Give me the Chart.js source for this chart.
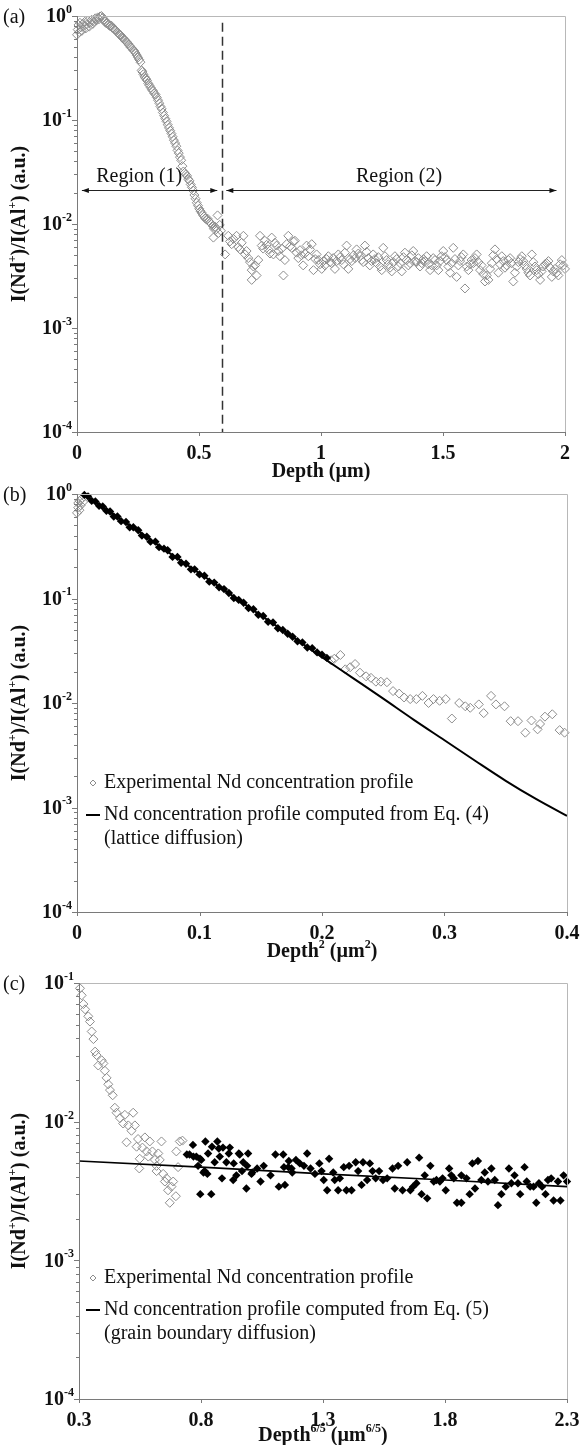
<!DOCTYPE html>
<html>
<head>
<meta charset="utf-8">
<script src="https://cdn.jsdelivr.net/npm/chart.js@4.4.1/dist/chart.umd.min.js"></script>
<style>
  body { margin: 0; background: #fff; width: 580px; height: 1445px; position: relative; overflow: hidden; }
  canvas { position: absolute; left: 0; }
</style>
</head>
<body>
<canvas id="chartA" width="580" height="492" style="top:0px"></canvas>
<canvas id="chartB" width="580" height="492" style="top:478px"></canvas>
<canvas id="chartC" width="580" height="479" style="top:966px"></canvas>
<script>
// Panel (a): Depth (µm) vs I(Nd+)/I(Al+)
const aRegionOne = [
  [0.000,0.66],[0.003,0.74],[0.006,0.82],[0.009,0.70],[0.012,0.86],[0.016,0.78],[0.020,0.72],[0.024,0.84],
  [0.028,0.80],[0.032,0.88],[0.036,0.76],[0.040,0.83],[0.045,0.90],[0.050,0.79],[0.055,0.86],[0.060,0.92],
  [0.065,0.84],[0.070,0.89],[0.075,0.95],[0.080,0.91],[0.085,0.97],[0.090,0.93],[0.095,0.99],[0.100,1.00],
  [0.105,0.96],[0.110,0.92],[0.115,0.88],[0.120,0.85],[0.125,0.86],[0.130,0.82],[0.135,0.80],[0.140,0.81],
  [0.145,0.77],[0.150,0.76],[0.155,0.74],[0.160,0.72],[0.165,0.70],[0.170,0.68],[0.175,0.66],[0.180,0.65],
  [0.185,0.62],[0.190,0.61],[0.195,0.59],[0.200,0.57],[0.205,0.56],[0.210,0.54],[0.215,0.52],[0.220,0.50],
  [0.225,0.49],[0.230,0.47],[0.235,0.46],[0.240,0.44],[0.245,0.42],[0.250,0.40],[0.255,0.38],[0.260,0.36],
  [0.265,0.30],[0.268,0.29],[0.272,0.275],[0.277,0.26],[0.282,0.25],[0.287,0.24],[0.292,0.225],[0.297,0.215],
  [0.302,0.205],[0.307,0.195],[0.312,0.19],[0.317,0.18],[0.322,0.175],[0.327,0.165],[0.332,0.155],[0.337,0.145],
  [0.342,0.135],[0.347,0.128],[0.352,0.118],[0.357,0.110],[0.362,0.103],[0.367,0.097],[0.372,0.090],[0.377,0.084],
  [0.382,0.079],[0.387,0.074],[0.392,0.069],[0.397,0.064],[0.402,0.060],[0.407,0.056],[0.412,0.051],[0.417,0.048],
  [0.422,0.044],[0.427,0.041],[0.432,0.036],[0.436,0.032],[0.441,0.031],[0.446,0.030],[0.451,0.029],[0.456,0.027],
  [0.461,0.026],[0.466,0.024],[0.471,0.0225],[0.476,0.021],[0.481,0.019],[0.486,0.0175],[0.491,0.016],[0.496,0.015],
  [0.501,0.014],[0.506,0.0133],[0.511,0.0128],[0.516,0.0122],[0.521,0.0118],[0.526,0.0113],[0.531,0.0110],[0.536,0.0112],
  [0.541,0.0106],[0.546,0.0103],[0.551,0.0100],[0.556,0.0096],[0.561,0.0090],[0.566,0.0094],[0.571,0.0089],[0.576,0.0121],
  [0.559,0.0074],[0.580,0.0082],[0.585,0.0098],[0.590,0.0086]
];
const aRegionTwo = [
  [0.607,0.0051],[0.62,0.0077],[0.627,0.0068],[0.634,0.0064],[0.641,0.0072],[0.654,0.0077],[0.661,0.0060],[0.668,0.0057],
  [0.675,0.0066],[0.682,0.0077],[0.689,0.0051],[0.695,0.0055],[0.702,0.0047],[0.709,0.0043],[0.716,0.0036],[0.716,0.0029],
  [0.723,0.0039],[0.73,0.0040],[0.736,0.0032],[0.743,0.0045],[0.75,0.0077],[0.757,0.0062],[0.763,0.0058],[0.77,0.0069],
  [0.777,0.0063],[0.784,0.0057],[0.791,0.0052],[0.798,0.0074],[0.805,0.0051],[0.811,0.0066],[0.818,0.0062],[0.825,0.0055],
  [0.832,0.0049],[0.839,0.0058],[0.846,0.0032],[0.852,0.0045],[0.859,0.0064],[0.866,0.0077],[0.873,0.0061],[0.88,0.0059],
  [0.887,0.0068],[0.893,0.0069],[0.9,0.0053],[0.907,0.0047],[0.914,0.0056],[0.92,0.0050],[0.927,0.0040],[0.934,0.0052],
  [0.941,0.0062],[0.948,0.0049],[0.955,0.0057],[0.962,0.0064],[0.969,0.0036],[0.976,0.0046],[0.982,0.0051],[0.989,0.0045],
  [0.996,0.0041],[1.003,0.0037],[1.01,0.0044],[1.016,0.0040],[1.023,0.0046],[1.03,0.0049],[1.037,0.0043],[1.044,0.0042],
  [1.05,0.0047],[1.057,0.0037],[1.064,0.0044],[1.071,0.0051],[1.078,0.0048],[1.085,0.0045],[1.092,0.0041],[1.098,0.0053],
  [1.105,0.0062],[1.112,0.0037],[1.119,0.0046],[1.126,0.0044],[1.133,0.0050],[1.14,0.0047],[1.146,0.0057],[1.153,0.0052],
  [1.16,0.0049],[1.167,0.0045],[1.173,0.0043],[1.18,0.0062],[1.187,0.0054],[1.194,0.0047],[1.2,0.0040],[1.207,0.0044],
  [1.214,0.0051],[1.221,0.0046],[1.228,0.0042],[1.235,0.0048],[1.242,0.0039],[1.249,0.0036],[1.255,0.0059],[1.262,0.0049],
  [1.269,0.0045],[1.276,0.0041],[1.283,0.0038],[1.29,0.0035],[1.296,0.0043],[1.303,0.0049],[1.31,0.0046],[1.317,0.0039],
  [1.324,0.0042],[1.331,0.0035],[1.338,0.0048],[1.344,0.0053],[1.351,0.0045],[1.358,0.0040],[1.365,0.0042],[1.372,0.0050],
  [1.378,0.0055],[1.385,0.0044],[1.392,0.0043],[1.399,0.0047],[1.406,0.0039],[1.413,0.0042],[1.42,0.0046],[1.426,0.0044],
  [1.433,0.0049],[1.44,0.0041],[1.447,0.0036],[1.454,0.0040],[1.46,0.0047],[1.467,0.0045],[1.474,0.0040],[1.481,0.0036],
  [1.488,0.0044],[1.494,0.0049],[1.501,0.0055],[1.508,0.0048],[1.515,0.0045],[1.522,0.0039],[1.529,0.0034],[1.535,0.0042],
  [1.542,0.0059],[1.549,0.0046],[1.556,0.0031],[1.563,0.0040],[1.57,0.0044],[1.576,0.0048],[1.583,0.0051],[1.59,0.0024],
  [1.597,0.0039],[1.604,0.0036],[1.611,0.0041],[1.617,0.0045],[1.624,0.0042],[1.631,0.0047],[1.638,0.0051],[1.645,0.0043],
  [1.652,0.0036],[1.658,0.0040],[1.665,0.0033],[1.672,0.0028],[1.679,0.0032],[1.686,0.0029],[1.693,0.0037],[1.7,0.0042],
  [1.706,0.0050],[1.713,0.0057],[1.72,0.0046],[1.727,0.0034],[1.734,0.0041],[1.741,0.0049],[1.747,0.0044],[1.754,0.0038],
  [1.761,0.0040],[1.768,0.0045],[1.775,0.0047],[1.781,0.0042],[1.788,0.0028],[1.795,0.0034],[1.802,0.0039],[1.809,0.0043],
  [1.816,0.0046],[1.823,0.0049],[1.829,0.0044],[1.836,0.0040],[1.843,0.0037],[1.85,0.0034],[1.857,0.0032],[1.864,0.0051],
  [1.87,0.0043],[1.877,0.0039],[1.884,0.0036],[1.891,0.0033],[1.898,0.0029],[1.904,0.0035],[1.911,0.0039],[1.918,0.0041],
  [1.925,0.0042],[1.932,0.0044],[1.939,0.0038],[1.946,0.0031],[1.952,0.0035],[1.959,0.0037],[1.966,0.0034],[1.973,0.0032],
  [1.98,0.0041],[1.987,0.0045],[1.993,0.0040],[2.0,0.0037]
];
const aXTicks = [0, 0.5, 1, 1.5, 2];
const aXTickLabels = ['0', '0.5', '1', '1.5', '2'];
const aDivider = 0.593;
const aArrowLevel = 0.021;
const aRegions = [
  { label: 'Region (1)', from: 0.02, to: 0.575, labelAt: 0.255 },
  { label: 'Region (2)', from: 0.612, to: 1.965, labelAt: 1.32 }
];

// Panel (b): Depth² (µm²)
const bOpenStart = [[0.000,0.66],[0.001,0.74],[0.001,0.82],[0.002,0.70],[0.002,0.86],[0.003,0.78],[0.004,0.90],[0.005,0.84]];
const bFilled = [
  [0.006,0.98],[0.009,0.95],[0.012,0.86],[0.015,0.85],[0.018,0.77],[0.021,0.76],[0.024,0.69],[0.027,0.68],
  [0.030,0.61],[0.033,0.61],[0.036,0.55],[0.040,0.54],[0.043,0.48],[0.046,0.48],[0.050,0.45],[0.053,0.40],
  [0.057,0.39],[0.060,0.35],[0.064,0.35],[0.067,0.31],[0.071,0.30],[0.074,0.29],[0.078,0.25],[0.082,0.25],
  [0.085,0.22],[0.089,0.215],[0.093,0.19],[0.096,0.19],[0.100,0.17],[0.104,0.165],[0.108,0.145],[0.112,0.142],
  [0.116,0.128],[0.120,0.123],[0.124,0.113],[0.128,0.101],[0.132,0.097],[0.136,0.091],[0.140,0.081],[0.144,0.079],
  [0.148,0.070],[0.152,0.068],[0.156,0.060],[0.160,0.059],[0.164,0.052],[0.168,0.050],[0.172,0.046],[0.176,0.043],
  [0.180,0.039],[0.184,0.038],[0.188,0.034],[0.192,0.0335],[0.196,0.0305],[0.200,0.029],[0.204,0.027]
];
const bOpenTail = [
  [0.2075,0.0256],[0.210,0.0265],[0.215,0.0288],[0.219,0.021],[0.223,0.022],[0.227,0.0236],[0.231,0.0195],[0.236,0.018],
  [0.240,0.0174],[0.244,0.016],[0.248,0.016],[0.253,0.0158],[0.258,0.013],[0.263,0.0123],[0.267,0.0113],[0.272,0.0109],
  [0.277,0.0109],[0.282,0.0117],[0.287,0.0100],[0.291,0.0109],[0.296,0.0105],[0.301,0.0109],[0.306,0.0071],[0.312,0.0100],
  [0.317,0.0093],[0.321,0.0090],[0.328,0.0097],[0.332,0.0080],[0.338,0.0117],[0.342,0.0097],[0.349,0.0093],[0.354,0.0067],
  [0.360,0.0067],[0.366,0.0052],[0.371,0.0068],[0.376,0.0056],[0.378,0.0063],[0.382,0.0074],[0.388,0.0078],[0.394,0.0055],
  [0.398,0.0052]
];
const bModelX = [0.005, 0.025, 0.05, 0.075, 0.1, 0.125, 0.15, 0.175, 0.2, 0.225, 0.25, 0.275, 0.3, 0.325, 0.35, 0.375, 0.4];
const bModelY = [1.0, 0.69, 0.44, 0.275, 0.174, 0.110, 0.069, 0.0437, 0.0275, 0.0174, 0.011, 0.0069, 0.0044, 0.0028, 0.0018, 0.0012, 0.00083];
const bXTicks = [0, 0.1, 0.2, 0.3, 0.4];
const bXTickLabels = ['0', '0.1', '0.2', '0.3', '0.4'];
const bLegend = ['Experimental Nd concentration profile', 'Nd concentration profile computed from Eq. (4)', '(lattice diffusion)'];

// Panel (c): Depth^(6/5) (µm^(6/5))
const cOpen = [
  [0.304,0.0916],[0.311,0.0815],[0.318,0.0705],[0.325,0.0646],[0.338,0.0575],[0.345,0.0527],[0.352,0.0447],[0.359,0.0394],
  [0.366,0.032],[0.372,0.0302],[0.379,0.0254],[0.393,0.0277],[0.400,0.0263],[0.406,0.0233],[0.413,0.0207],[0.420,0.0186],
  [0.427,0.0169],[0.438,0.0155],[0.447,0.0126],[0.454,0.0116],[0.468,0.0106],[0.481,0.0097],[0.488,0.0112],[0.495,0.0071],
  [0.502,0.0094],[0.515,0.0086],[0.522,0.0116],[0.529,0.0094],[0.536,0.0066],[0.542,0.0075],[0.547,0.0046],[0.549,0.0054],
  [0.560,0.0065],[0.570,0.0077],[0.577,0.0061],[0.584,0.0056],[0.590,0.0072],[0.601,0.0061],[0.611,0.0053],[0.618,0.0044],
  [0.618,0.0048],[0.625,0.0059],[0.631,0.0053],[0.638,0.0072],[0.645,0.0042],[0.652,0.0037],[0.659,0.0039],[0.665,0.0032],
  [0.672,0.0026],[0.679,0.0034],[0.686,0.0037],[0.697,0.0029],[0.699,0.0061],[0.706,0.0047],[0.713,0.0072],[0.724,0.0073]
];
const cFilled = [
  [0.742,0.0058],[0.753,0.0058],[0.767,0.0068],[0.769,0.0056],[0.781,0.0056],[0.788,0.0048],[0.796,0.0054],[0.797,0.0030],
  [0.801,0.0053],[0.810,0.0043],[0.815,0.0044],[0.818,0.0072],[0.826,0.0042],[0.829,0.0059],[0.842,0.0030],[0.845,0.0066],
  [0.856,0.0051],[0.867,0.0072],[0.873,0.0064],[0.877,0.0056],[0.886,0.0039],[0.890,0.0065],[0.904,0.0051],[0.914,0.0059],
  [0.918,0.0065],[0.932,0.0038],[0.934,0.0050],[0.945,0.0041],[0.955,0.0059],[0.959,0.0058],[0.968,0.0044],[0.973,0.0051],
  [0.986,0.0033],[0.989,0.0048],[0.993,0.0059],[1.007,0.0042],[1.010,0.0043],[1.030,0.0046],[1.044,0.0037],[1.057,0.0048],
  [1.085,0.0041],[1.105,0.0058],[1.119,0.0034],[1.137,0.0058],[1.140,0.0047],[1.144,0.0035],[1.158,0.0047],[1.160,0.0052],
  [1.171,0.0046],[1.174,0.0043],[1.189,0.0053],[1.205,0.0050],[1.222,0.0048],[1.235,0.0059],[1.249,0.0046],[1.267,0.0042],
  [1.285,0.0050],[1.294,0.0044],[1.303,0.0038],[1.317,0.0032],[1.325,0.0054],[1.342,0.0043],[1.348,0.0038],[1.362,0.0032],
  [1.369,0.0039],[1.385,0.0047],[1.396,0.0032],[1.407,0.0048],[1.417,0.0032],[1.434,0.0051],[1.444,0.0044],[1.458,0.0035],
  [1.464,0.0051],[1.481,0.0038],[1.492,0.0050],[1.503,0.0044],[1.516,0.0039],[1.530,0.0044],[1.546,0.0038],[1.563,0.0039],
  [1.585,0.0046],[1.594,0.0033],[1.608,0.0048],[1.626,0.0032],[1.645,0.0051],[1.658,0.0032],[1.669,0.0034],[1.683,0.0036],
  [1.694,0.0055],[1.704,0.0030],[1.717,0.0041],[1.727,0.0028],[1.740,0.0048],[1.754,0.0037],[1.765,0.0038],[1.779,0.0037],
  [1.790,0.0039],[1.803,0.0032],[1.817,0.0046],[1.826,0.0041],[1.836,0.0039],[1.849,0.0026],[1.867,0.0026],[1.867,0.0041],
  [1.888,0.0039],[1.901,0.0030],[1.912,0.0050],[1.923,0.0033],[1.935,0.0052],[1.949,0.0038],[1.963,0.0043],[1.976,0.0037],
  [1.990,0.0046],[2.004,0.0038],[2.017,0.0025],[2.031,0.0030],[2.049,0.0034],[2.062,0.0046],[2.072,0.0036],[2.085,0.0041],
  [2.099,0.0036],[2.108,0.0030],[2.126,0.0047],[2.135,0.0037],[2.149,0.0034],[2.163,0.0034],[2.174,0.0026],[2.185,0.0036],
  [2.198,0.0034],[2.212,0.0030],[2.222,0.0038],[2.235,0.0039],[2.245,0.0027],[2.263,0.0037],[2.273,0.0027],[2.286,0.0041],
  [2.300,0.0037]
];
const cModelX = [0.3, 0.8, 1.3, 1.8, 2.3];
const cModelY = [0.0052, 0.0047, 0.0042, 0.0038, 0.0034];
const cXTicks = [0.3, 0.8, 1.3, 1.8, 2.3];
const cXTickLabels = ['0.3', '0.8', '1.3', '1.8', '2.3'];
const cLegend = ['Experimental Nd concentration profile', 'Nd concentration profile computed from Eq. (5)', '(grain boundary diffusion)'];

const yExponentsFull = [0, -1, -2, -3, -4];
const yExponentsC = [-1, -2, -3, -4];
const minorSteps = [2, 3, 4, 5, 6, 7, 8, 9];

const SERIF = '"Liberation Serif", "Times New Roman", serif';
function fontOf(size, bold) { return (bold ? 'bold ' : '') + size + 'px ' + SERIF; }

// text with ^{...} superscripts
function parseRich(text) {
  return text.split(/(\^\{[^}]*\})/).filter(s => s).map(s =>
    s.startsWith('^{') ? { t: s.slice(2, -1), sup: true } : { t: s, sup: false });
}
function drawRich(ctx, text, x, y, size, bold, align) {
  const parts = parseRich(text);
  const supSize = Math.round(size * 0.62);
  let w = 0;
  parts.forEach(p => { ctx.font = fontOf(p.sup ? supSize : size, bold); w += ctx.measureText(p.t).width; });
  let cx = align === 'center' ? x - w / 2 : align === 'right' ? x - w : x;
  ctx.textAlign = 'left';
  ctx.textBaseline = 'middle';
  parts.forEach(p => {
    ctx.font = fontOf(p.sup ? supSize : size, bold);
    ctx.fillText(p.t, cx, p.sup ? y - size * 0.36 : y);
    cx += ctx.measureText(p.t).width;
  });
}

function diamond(ctx, x, y, r, fill) {
  ctx.beginPath();
  ctx.moveTo(x, y - r); ctx.lineTo(x + r, y); ctx.lineTo(x, y + r); ctx.lineTo(x - r, y); ctx.closePath();
  if (fill) { ctx.fillStyle = '#000'; ctx.fill(); }
  else { ctx.strokeStyle = '#8c8c8c'; ctx.lineWidth = 1; ctx.stroke(); }
}

const decorPlugin = {
  id: 'decor',
  afterDraw(chart, args, opts) {
    const { ctx, chartArea: a, scales: { x, y } } = chart;
    ctx.save();
    // plot frame
    ctx.lineWidth = 1;
    ctx.strokeStyle = '#b8b8b8';
    ctx.beginPath();
    ctx.moveTo(a.left, a.top + 0.5); ctx.lineTo(a.right + 0.5, a.top + 0.5); ctx.lineTo(a.right + 0.5, a.bottom);
    ctx.stroke();
    ctx.strokeStyle = '#7a7a7a';
    ctx.beginPath();
    ctx.moveTo(a.left + 0.5, a.top); ctx.lineTo(a.left + 0.5, a.bottom + 0.5); ctx.lineTo(a.right + 0.5, a.bottom + 0.5);
    ctx.stroke();

    // y ticks, major + minor
    ctx.beginPath();
    opts.yExps.forEach((e, i) => {
      const py = Math.round(y.getPixelForValue(Math.pow(10, e))) + 0.5;
      ctx.moveTo(a.left - 5, py); ctx.lineTo(a.left, py);
      if (i < opts.yExps.length - 1) {
        minorSteps.forEach(m => {
          const my = Math.round(y.getPixelForValue(m * Math.pow(10, e - 1))) + 0.5;
          ctx.moveTo(a.left - 3, my); ctx.lineTo(a.left, my);
        });
      }
    });
    // x ticks
    opts.xTicks.forEach(v => {
      const px = Math.round(x.getPixelForValue(v)) + 0.5;
      ctx.moveTo(px, a.bottom); ctx.lineTo(px, a.bottom + 4);
    });
    ctx.stroke();

    ctx.fillStyle = '#111';
    opts.yExps.forEach(e => {
      const py = y.getPixelForValue(Math.pow(10, e));
      drawRich(ctx, '10^{' + e + '}', a.left - 5, py + 1, 20, true, 'right');
    });
    opts.xTicks.forEach((v, i) => {
      drawRich(ctx, opts.xLabels[i], x.getPixelForValue(v), a.bottom + 22, 20, true, 'center');
    });
    drawRich(ctx, opts.xTitle, (a.left + a.right) / 2, a.bottom + opts.titleGap, 20, true, 'center');
    ctx.save();
    ctx.translate(20, (a.top + a.bottom) / 2);
    ctx.rotate(-Math.PI / 2);
    drawRich(ctx, 'I(Nd^{+})/I(Al^{+}) (a.u.)', 0, 0, 20, true, 'center');
    ctx.restore();
    drawRich(ctx, opts.letter, 3, a.top + 2, 20, false, 'left');

    if (opts.regions) {
      // dashed divider between the two regions
      const dx = Math.round(x.getPixelForValue(opts.divider)) + 0.5;
      ctx.strokeStyle = '#333';
      ctx.lineWidth = 1.5;
      ctx.setLineDash([9, 5]);
      ctx.beginPath();
      ctx.moveTo(dx, y.getPixelForValue(0.86)); ctx.lineTo(dx, a.bottom);
      ctx.stroke();
      ctx.setLineDash([]);
      const ay = Math.round(y.getPixelForValue(opts.arrowLevel)) + 0.5;
      opts.regions.forEach(r => {
        const x1 = x.getPixelForValue(r.from), x2 = x.getPixelForValue(r.to);
        ctx.strokeStyle = '#222';
        ctx.lineWidth = 1;
        ctx.beginPath(); ctx.moveTo(x1, ay); ctx.lineTo(x2, ay); ctx.stroke();
        ctx.fillStyle = '#111';
        ctx.beginPath();
        ctx.moveTo(x1, ay); ctx.lineTo(x1 + 7, ay - 2.5); ctx.lineTo(x1 + 7, ay + 2.5); ctx.closePath();
        ctx.moveTo(x2, ay); ctx.lineTo(x2 - 7, ay - 2.5); ctx.lineTo(x2 - 7, ay + 2.5); ctx.closePath();
        ctx.fill();
        drawRich(ctx, r.label, x.getPixelForValue(r.labelAt), ay - 14, 20, false, 'center');
      });
    }

    if (opts.legend) {
      const L = opts.legend;
      diamond(ctx, 93, L.rows[0], 3, false);
      ctx.strokeStyle = '#000';
      ctx.lineWidth = 2;
      ctx.beginPath(); ctx.moveTo(86, L.rows[1]); ctx.lineTo(100, L.rows[1]); ctx.stroke();
      ctx.fillStyle = '#111';
      L.text.forEach((t, i) => drawRich(ctx, t, 104, L.rows[i], 20, false, 'left'));
    }
    ctx.restore();
  }
};

const toXY = arr => arr.map(p => ({ x: p[0], y: p[1] }));
const openStyle = { pointStyle: 'rectRot', pointRadius: 4.5, borderWidth: 1, borderColor: '#8c8c8c', backgroundColor: 'rgba(255,255,255,0)', clip: false, order: 2 };
const filledStyle = r => ({ pointStyle: 'rectRot', pointRadius: r, borderWidth: 0, borderColor: '#000', backgroundColor: '#000', clip: false, order: 1 });
const modelStyle = { showLine: true, pointRadius: 0, borderColor: '#000', borderWidth: 2, cubicInterpolationMode: 'monotone', clip: false, order: 0 };

function makePanel(id, p) {
  const canvas = document.getElementById(id);
  return new Chart(canvas, {
    type: 'scatter',
    data: { datasets: p.datasets },
    options: {
      responsive: false,
      animation: false,
      events: [],
      layout: { padding: { top: p.top, right: 580 - p.right, left: 0, bottom: 0 } },
      plugins: { legend: { display: false }, tooltip: { enabled: false }, decor: p.decor },
      scales: {
        x: {
          type: 'linear', min: p.xMin, max: p.xMax,
          grid: { display: false }, border: { display: false }, ticks: { display: false },
          afterFit: s => { s.height = canvas.height - p.bottom; }
        },
        y: {
          type: 'logarithmic', min: p.yMin, max: p.yMax,
          grid: { display: false }, border: { display: false }, ticks: { display: false },
          afterFit: s => { s.width = p.left; }
        }
      }
    },
    plugins: [decorPlugin]
  });
}

makePanel('chartA', {
  left: 77, right: 565, top: 16, bottom: 432,
  xMin: 0, xMax: 2, yMin: 1e-4, yMax: 1,
  datasets: [{ data: toXY(aRegionOne.concat(aRegionTwo)), ...openStyle }],
  decor: {
    letter: '(a)', yExps: yExponentsFull, xTicks: aXTicks, xLabels: aXTickLabels, xTitle: 'Depth (µm)', titleGap: 40,
    divider: aDivider, arrowLevel: aArrowLevel, regions: aRegions
  }
});

makePanel('chartB', {
  left: 77, right: 567, top: 16, bottom: 434,
  xMin: 0, xMax: 0.4, yMin: 1e-4, yMax: 1,
  datasets: [
    { data: bModelX.map((v, i) => ({ x: v, y: bModelY[i] })), ...modelStyle },
    { data: toXY(bFilled), ...filledStyle(4.2) },
    { data: toXY(bOpenStart.concat(bOpenTail)), ...openStyle }
  ],
  decor: {
    letter: '(b)', yExps: yExponentsFull, xTicks: bXTicks, xLabels: bXTickLabels, xTitle: 'Depth^{2} (µm^{2})', titleGap: 40,
    legend: { rows: [305, 337, 361], text: bLegend }
  }
});

makePanel('chartC', {
  left: 79, right: 567, top: 17, bottom: 433,
  xMin: 0.3, xMax: 2.3, yMin: 1e-4, yMax: 0.1,
  datasets: [
    { data: cModelX.map((v, i) => ({ x: v, y: cModelY[i] })), ...modelStyle, cubicInterpolationMode: 'default', borderWidth: 1.6 },
    { data: toXY(cFilled), ...filledStyle(4.2) },
    { data: toXY(cOpen), ...openStyle }
  ],
  decor: {
    letter: '(c)', yExps: yExponentsC, xTicks: cXTicks, xLabels: cXTickLabels, xTitle: 'Depth^{6/5} (µm^{6/5})', titleGap: 37,
    legend: { rows: [312, 344, 368], text: cLegend }
  }
});
</script>
</body>
</html>
